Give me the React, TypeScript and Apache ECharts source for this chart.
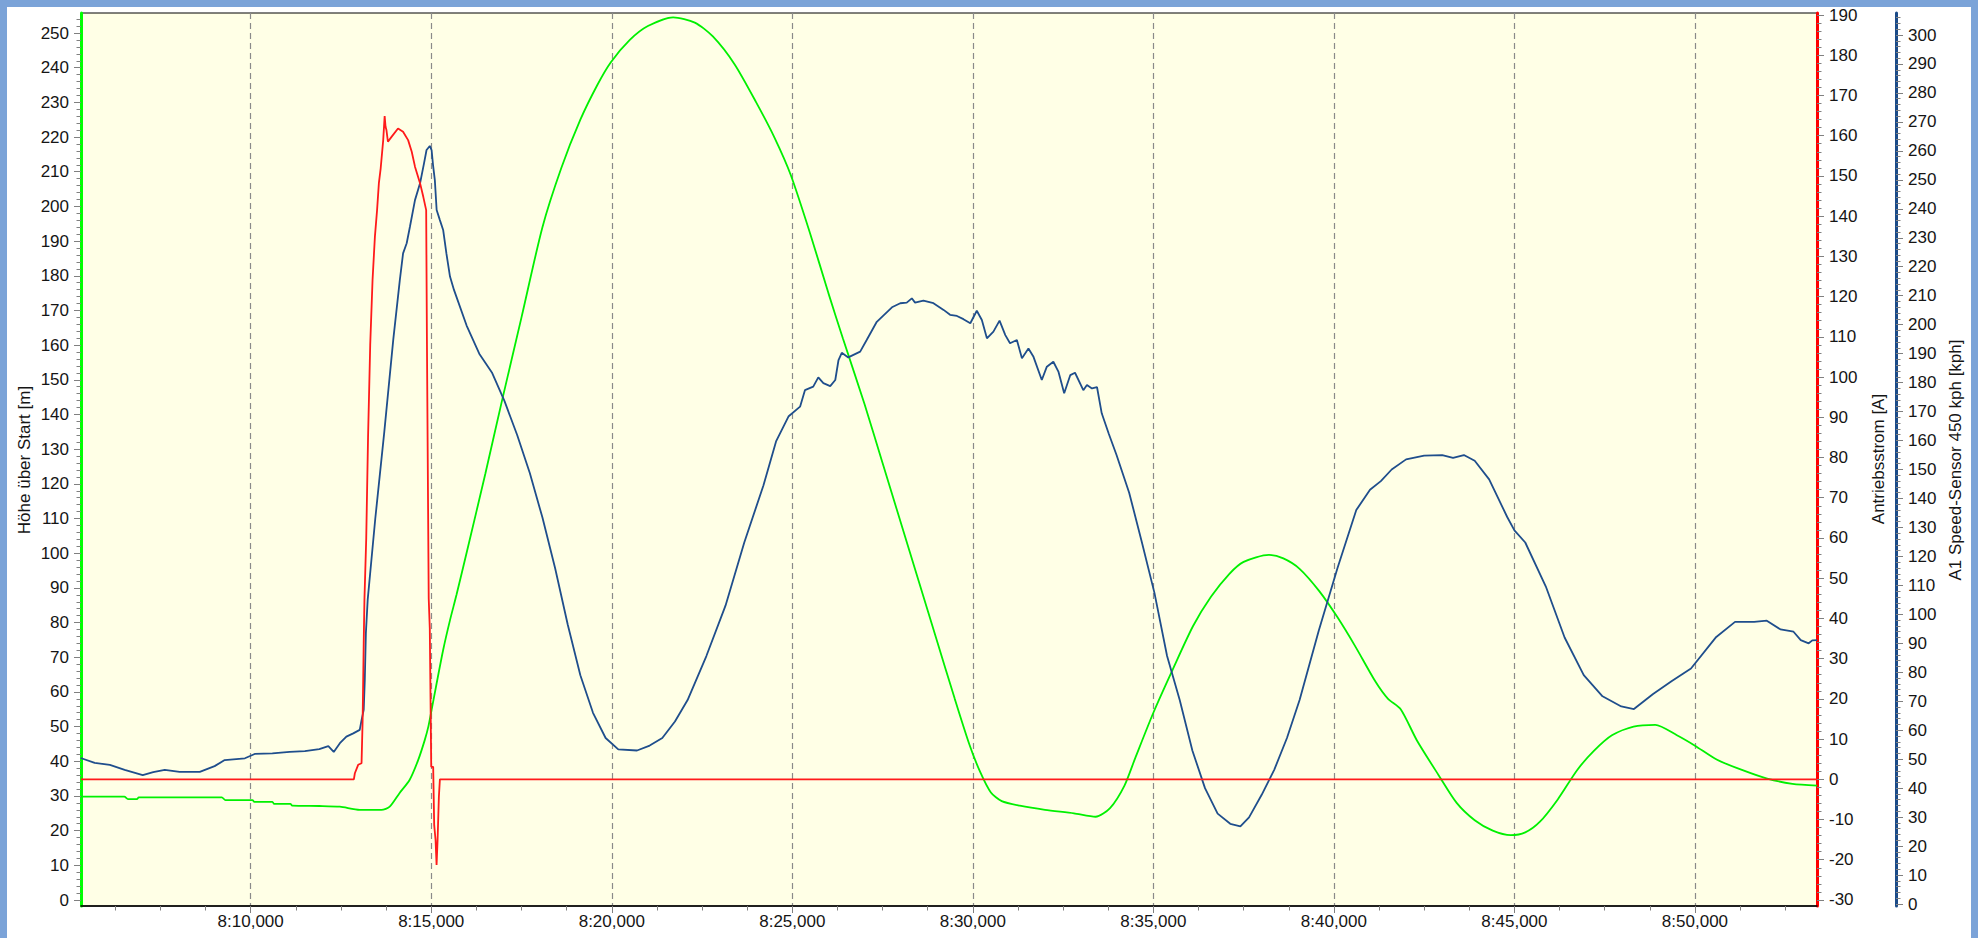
import React, { useEffect, useRef } from "react";
import * as echarts from "echarts";

// time in minutes after 8:00
const T0 = 8 * 3600;
const X_MIN = 5.3;
const X_MAX = 53.38;

const xMajorMinutes = [10, 15, 20, 25, 30, 35, 40, 45, 50];

// Höhe über Start [m] (left axis)
const hoeheData: [number, number][] = [
  [5.3, 29.8], [6.5, 29.8], [6.6, 29.1], [6.85, 29.1], [6.9, 29.6], [9.2, 29.6], [9.3, 28.8], [10.05, 28.8],
  [10.1, 28.3], [10.6, 28.3], [10.65, 27.7], [11.1, 27.7], [11.15, 27.2], [11.9, 27.1], [12.47, 26.9], [13.02, 26.0],
  [13.62, 26.0], [13.85, 26.9], [14.12, 30.8], [14.4, 34.6], [14.64, 40.4], [14.82, 46.1], [14.92, 50], [15.01, 54.8],
  [15.15, 62.5], [15.33, 72.1], [15.52, 80.7], [15.7, 88], [16.0, 101], [16.5, 123], [16.96, 144], [17.5, 168],
  [18.08, 194], [18.6, 211], [19.13, 225], [19.6, 235], [19.97, 241.5], [20.5, 248], [21.0, 252], [21.7, 254.5],
  [22.3, 253], [22.8, 249], [23.4, 241], [24.0, 230], [24.5, 220], [24.96, 209], [25.5, 192], [26.0, 175],
  [26.4, 162], [27.0, 143], [27.5, 126], [28.0, 109], [28.5, 92], [29.0, 75], [29.5, 58], [29.9, 45],
  [30.2, 37], [30.5, 31], [30.8, 28.5], [31.3, 27.2], [32.0, 26], [32.8, 25], [33.4, 24], [33.8, 26.5],
  [34.2, 33], [34.5, 41], [35.0, 54], [35.56, 67], [36.1, 79], [36.6, 87.5], [37.1, 94], [37.5, 97.5],
  [38.2, 99.5], [38.6, 98.5], [39.05, 95.5], [39.6, 89], [40.1, 81.5], [40.6, 73], [41.15, 63], [41.5, 58],
  [41.85, 55], [42.3, 46], [42.9, 36], [43.4, 28], [43.9, 23], [44.4, 20], [44.9, 18.7], [45.3, 19.5],
  [45.7, 22.5], [46.2, 29], [46.74, 37.5], [47.2, 43], [47.7, 47.5], [48.3, 50], [48.9, 50.5], [49.5, 47.5],
  [50.0, 44.5], [50.6, 40.5], [51.3, 37.5], [52.0, 35], [52.7, 33.5], [53.38, 33],
];

// Antriebsstrom [A] (red axis)
const stromData: [number, number][] = [
  [5.3, 0], [12.857, 0], [12.885, 1.5], [12.976, 3.6], [13.07, 4.0], [13.1, 14.7], [13.13, 33.9], [13.15, 44.6],
  [13.2, 60], [13.25, 85], [13.31, 108], [13.375, 124.2], [13.44, 134.9], [13.5, 141.5], [13.55, 148.2], [13.6, 151.9],
  [13.67, 158.9], [13.71, 164.9], [13.735, 162.2], [13.76, 161.4], [13.8, 158.5], [13.9, 159.7], [14.08, 161.8], [14.22, 161.0],
  [14.36, 158.9], [14.46, 156.0], [14.55, 152.3], [14.69, 148.2], [14.78, 144.8], [14.86, 141.5], [14.88, 110], [14.93, 45],
  [14.96, 37.5], [15.0, 3.1], [15.054, 3.1], [15.082, -11.4], [15.12, -15.1], [15.148, -21.3], [15.176, -15.1], [15.212, -4.3],
  [15.24, 0], [53.38, 0],
];

// A1 Speed-Sensor 450 kph [kph] (blue axis)
const speedData: [number, number][] = [
  [5.29, 50.4], [5.68, 48.7], [6.1, 48.0], [6.51, 46.3], [7.01, 44.5], [7.3, 45.5], [7.62, 46.3], [8.03, 45.6],
  [8.59, 45.6], [9.0, 47.6], [9.28, 49.7], [9.84, 50.3], [10.11, 51.8], [10.6, 52.0], [11.08, 52.5], [11.5, 52.8],
  [11.9, 53.5], [12.15, 54.5], [12.3, 52.5], [12.47, 55.5], [12.65, 57.8], [12.84, 58.9], [13.02, 60.1], [13.07, 63.5],
  [13.13, 67.0], [13.16, 77.3], [13.19, 93.5], [13.24, 105], [13.45, 133], [13.7, 163], [13.95, 195], [14.13, 215.4],
  [14.22, 224.6], [14.32, 228.1], [14.41, 233.8], [14.55, 243], [14.69, 248.8], [14.8, 255.7], [14.87, 260.3], [14.96, 261.7],
  [15.01, 260.3], [15.05, 255.1], [15.1, 249.9], [15.15, 239.6], [15.24, 236.1], [15.33, 232.7], [15.42, 224.6], [15.52, 216.6],
  [15.63, 212], [15.98, 199.7], [16.33, 190], [16.68, 183.5], [17.03, 173.6], [17.38, 161.9], [17.73, 148.8], [18.08, 133.4],
  [18.43, 116], [18.78, 96.5], [19.13, 79], [19.48, 66], [19.83, 57.3], [20.18, 53.4], [20.7, 53], [21.05, 54.7],
  [21.4, 57.3], [21.75, 63], [22.1, 70.4], [22.62, 85.6], [23.15, 103], [23.67, 124.8], [24.2, 144.5], [24.55, 159.7],
  [24.9, 168.4], [25.215, 171.7], [25.35, 177.4], [25.58, 178.6], [25.72, 181.8], [25.86, 179.8], [26.05, 178.8], [26.19, 180.9],
  [26.28, 187.8], [26.37, 190.3], [26.55, 188.7], [26.88, 190.7], [27.06, 194.7], [27.34, 201], [27.76, 206], [27.99, 207.4],
  [28.17, 207.6], [28.31, 209.1], [28.4, 207.6], [28.63, 208.3], [28.91, 207.4], [29.19, 205.1], [29.37, 203.4], [29.56, 203],
  [29.74, 201.9], [29.93, 200.5], [30.11, 204.8], [30.25, 201.6], [30.39, 195.3], [30.57, 197.6], [30.74, 201.4], [30.9, 196.4],
  [31.03, 193.6], [31.22, 194.7], [31.36, 188.4], [31.54, 191.8], [31.68, 188.9], [31.91, 180.9], [32.05, 185.5], [32.23, 187.2],
  [32.37, 183.8], [32.53, 176.3], [32.7, 182.6], [32.83, 183.4], [33.06, 177.4], [33.16, 179.2], [33.3, 178], [33.44, 178.4],
  [33.57, 169.4], [33.76, 162.5], [33.98, 155], [34.33, 142], [34.68, 125], [35.03, 107.4], [35.38, 85.6], [35.73, 70.4],
  [36.08, 53], [36.43, 40], [36.78, 31.2], [37.13, 27.7], [37.41, 26.8], [37.65, 29.9], [38.0, 37.7], [38.35, 46.4],
  [38.7, 57.3], [39.05, 70.4], [39.58, 94.3], [40.1, 116], [40.62, 136], [41.0, 143], [41.3, 146], [41.6, 150],
  [42.0, 153.5], [42.5, 154.8], [43.0, 155], [43.3, 154], [43.6, 155], [43.9, 153], [44.3, 146.6], [44.8, 133.6],
  [45.0, 129], [45.3, 124.8], [45.87, 109.6], [46.39, 92], [46.92, 79], [47.44, 71.7], [47.96, 68.2], [48.31, 67.3],
  [48.84, 72.5], [49.36, 77], [49.89, 81.3], [50.59, 92.2], [51.11, 97.4], [51.64, 97.4], [51.99, 97.8], [52.37, 94.8],
  [52.73, 94.0], [52.93, 91.1], [53.15, 90.0], [53.25, 91.0], [53.38, 91.1],
];

const leftRange: [number, number] = [-1.73, 255.77];
const redRange: [number, number] = [-31.5, 190.5];
const blueRange: [number, number] = [-0.69, 307.6];

const leftTitle = "Höhe über Start [m]";
const redTitle = "Antriebsstrom [A]";
const blueTitle = "A1 Speed-Sensor 450 kph [kph]";

const FONT = "'Liberation Sans', Arial, sans-serif";
const TEXT = "#151515";
const TICK = "#808080";

const range = (a: number, b: number, s: number) => {
  const out: number[] = [];
  for (let v = a; v <= b + 1e-9; v += s) out.push(Math.round(v * 1000) / 1000);
  return out;
};
const toSec = (m: number) => T0 + m * 60;
const conv = (d: [number, number][]) => d.map(([m, v]) => [toSec(m), v]);

function yAxisPair(pos: string, offset: number, r: [number, number], color: string, majors: number[], minors: number[]) {
  return [
    {
      type: "value", position: pos, offset, min: r[0], max: r[1],
      axisLine: { show: true, onZero: false, lineStyle: { color, width: 3 } },
      axisTick: { show: true, customValues: majors, length: 7, lineStyle: { color: TICK, width: 1 } },
      axisLabel: { show: true, customValues: majors, margin: 12, color: TEXT, fontFamily: FONT, fontSize: 17 },
      splitLine: { show: false },
    },
    {
      type: "value", position: pos, offset, min: r[0], max: r[1],
      axisLine: { show: false, onZero: false },
      axisTick: { show: true, customValues: minors, length: 4.5, lineStyle: { color: TICK, width: 1 } },
      axisLabel: { show: false },
      splitLine: { show: false },
    },
  ];
}

export default function App() {
  const ref = useRef<HTMLDivElement>(null);
  useEffect(() => {
    const chart = echarts.init(ref.current!, null, { renderer: "svg" });
    const xMajor = xMajorMinutes.map(toSec);
    const xMinor = range(6.25, 52.5, 1.25).map(toSec);
    const fmt = (v: number) => {
      const h = Math.floor(v / 3600);
      const m = Math.round((v - h * 3600) / 60);
      return `${h}:${m < 10 ? "0" + m : m},000`;
    };
    const option: any = {
      animation: false,
      grid: { left: 81, right: 161, top: 13, bottom: 32, show: true, backgroundColor: "#FFFFE6", borderColor: "#000", borderWidth: 1 },
      xAxis: [
        {
          type: "value", position: "bottom", min: toSec(X_MIN), max: toSec(X_MAX),
          axisLine: { show: true, onZero: false, lineStyle: { color: "#000", width: 1.5 } },
          axisTick: { show: true, customValues: xMinor, length: 4.5, lineStyle: { color: TICK } },
          axisLabel: { show: false },
          splitLine: { show: false },
        },
        {
          type: "value", position: "bottom", min: toSec(X_MIN), max: toSec(X_MAX),
          axisLine: { show: false, onZero: false },
          axisTick: { show: true, customValues: xMajor, length: 7, lineStyle: { color: TICK } },
          axisLabel: { show: true, customValues: xMajor, formatter: fmt, margin: 7, color: TEXT, fontFamily: FONT, fontSize: 17 },
          splitLine: { show: true, lineStyle: { color: "#8a8a8a", width: 1.2, type: [6, 4] } },
        },
      ],
      yAxis: [
        ...yAxisPair("left", 0, leftRange, "#00FF00", range(0, 250, 10), range(0, 254, 2)),
        ...yAxisPair("right", 0, redRange, "#FF0000", range(-30, 190, 10), range(-30, 190, 2)),
        ...yAxisPair("right", 79, blueRange, "#1B4B88", range(0, 300, 10), range(0, 306, 2)),
      ],
      graphic: [
        { type: "text", x: 24, y: 460, rotation: Math.PI / 2, style: { text: leftTitle, font: `17px ${FONT}`, fill: TEXT, align: "center", verticalAlign: "middle" } },
        { type: "text", x: 1878, y: 459, rotation: Math.PI / 2, style: { text: redTitle, font: `17px ${FONT}`, fill: TEXT, align: "center", verticalAlign: "middle" } },
        { type: "text", x: 1955, y: 460, rotation: Math.PI / 2, style: { text: blueTitle, font: `17px ${FONT}`, fill: TEXT, align: "center", verticalAlign: "middle" } },
      ],
      series: [
        { name: leftTitle, type: "line", xAxisIndex: 0, yAxisIndex: 0, data: conv(hoeheData), showSymbol: false, smooth: 0.25, lineStyle: { color: "#00F000", width: 1.8 }, itemStyle: { color: "#00F000" } },
        { name: blueTitle, type: "line", xAxisIndex: 0, yAxisIndex: 4, data: conv(speedData), showSymbol: false, lineStyle: { color: "#1F4E8C", width: 1.8 }, itemStyle: { color: "#1F4E8C" } },
        { name: redTitle, type: "line", xAxisIndex: 0, yAxisIndex: 2, data: conv(stromData), showSymbol: false, lineStyle: { color: "#FF1A1A", width: 1.8 }, itemStyle: { color: "#FF1A1A" } },
      ],
    };
    chart.setOption(option);
    return () => chart.dispose();
  }, []);
  return (
    <div style={{ position: "fixed", left: 0, top: 0, width: 1978, height: 938, background: "#7BA3D8", overflow: "hidden" }}>
      <div style={{ position: "absolute", left: 7, top: 7, right: 7, bottom: 0, background: "#ffffff" }} />
      <div ref={ref} style={{ position: "absolute", left: 0, top: 0, width: 1978, height: 938 }} />
    </div>
  );
}
